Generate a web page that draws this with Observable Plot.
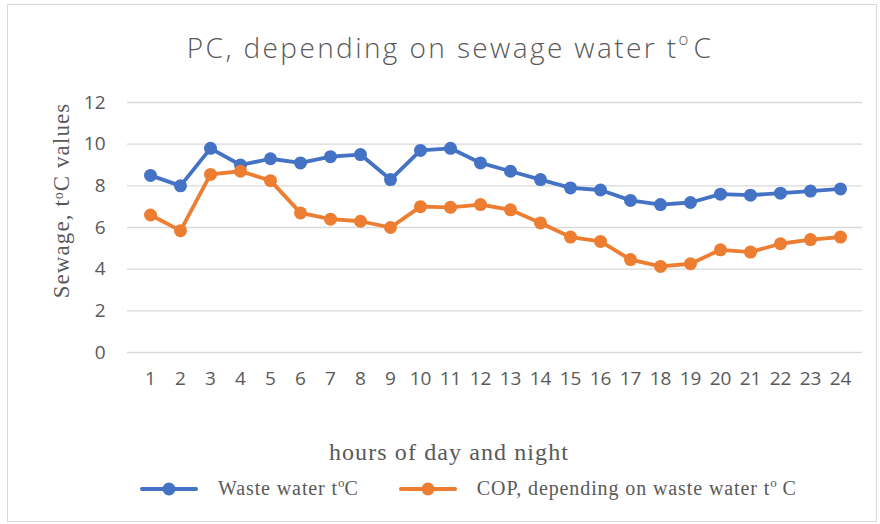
<!DOCTYPE html>
<html><head><meta charset="utf-8">
<script src="https://cdn.jsdelivr.net/npm/d3@7"></script>
<script src="https://cdn.jsdelivr.net/npm/@observablehq/plot@0.6"></script>
<style>
body{margin:0;background:#fff;}
#wrap{position:relative;width:880px;height:524px;overflow:hidden;background:#fff;}
#border{position:absolute;left:7px;top:4px;width:870px;height:518px;border:1px solid #d9d9d9;box-sizing:border-box;}
#title{position:absolute;left:0;top:27px;width:900px;text-align:center;font-family:"Open Sans",sans-serif;font-size:28px;letter-spacing:2.4px;font-weight:300;color:#595959;line-height:40px;margin:0;}
#title sup{font-size:60%;vertical-align:0;position:relative;top:-0.75em;letter-spacing:0;margin-right:5px;}
#chart{position:absolute;left:0;top:80px;}
#legend{position:absolute;left:140px;top:477px;display:flex;align-items:center;font-family:"Liberation Serif","Times New Roman",serif;font-size:20px;letter-spacing:0.9px;color:#595959;}
.item{display:flex;align-items:center;margin-right:40px;}
.item svg{margin-right:20px;}
.item sup{font-size:65%;vertical-align:0;position:relative;top:-0.6em;letter-spacing:0;}
#chart g[aria-label="text"] text{letter-spacing:1.1px;}
</style></head>
<body>
<div id="wrap">
  <div id="border"></div>
  <h1 id="title">PC, depending on sewage water t<sup>o</sup>C</h1>
  <div id="chart"></div>
  <div id="legend"></div>
</div>
<script>
const hours = [1,2,3,4,5,6,7,8,9,10,11,12,13,14,15,16,17,18,19,20,21,22,23,24];
const wasteWater = [8.5, 8.0, 9.8, 9.0, 9.3, 9.1, 9.4, 9.5, 8.3, 9.7, 9.8, 9.1, 8.7, 8.3, 7.9, 7.8, 7.3, 7.1, 7.2, 7.6, 7.55, 7.65, 7.75, 7.85];
const cop = [6.6, 5.85, 8.55, 8.7, 8.25, 6.7, 6.4, 6.3, 6.0, 7.0, 6.97, 7.1, 6.85, 6.22, 5.54, 5.33, 4.46, 4.13, 4.26, 4.93, 4.82, 5.22, 5.42, 5.54];
const yTicks = [0, 2, 4, 6, 8, 10, 12];
const seriesNames = ["Waste water t\u1D52C", "COP, depending on waste water t\u1D52 C"];
const seriesLegendHtml = ["Waste water t<sup>o</sup>C", "COP, depending on waste water t<sup>o</sup> C"];
const seriesColors = ["#4472C4", "#ED7D31"];
const yLabel = "Sewage, t\u1D52C values";
const xLabel = "hours of day and night";

const seriesValues = [wasteWater, cop];
const data = seriesValues.flatMap((vals, s) => vals.map((v, i) => ({hour: hours[i], value: v, series: seriesNames[s]})));

const seriesMarks = seriesNames.flatMap((name) => {
  const d = data.filter(r => r.series === name);
  return [
    Plot.line(d, {x: "hour", y: "value", stroke: "series", strokeWidth: 3.8, strokeLinejoin: "round", strokeLinecap: "round"}),
    Plot.dot(d, {x: "hour", y: "value", fill: "series", r: 6.5})
  ];
});

const chart = Plot.plot({
  width: 880,
  height: 390,
  marginLeft: 127,
  marginRight: 18,
  marginTop: 22,
  marginBottom: 118,
  x: {type: "point", domain: hours, padding: 0.5},
  y: {domain: [0, 12]},
  color: {domain: seriesNames, range: seriesColors},
  style: {fontFamily: "'Open Sans', sans-serif", fontSize: "19px", color: "#595959", background: "transparent", overflow: "visible"},
  marks: [
    Plot.gridY(yTicks, {stroke: "#d9d9d9", strokeOpacity: 1, strokeWidth: 1.3}),
    Plot.axisY(yTicks, {tickSize: 0, tickPadding: 22, label: null}),
    Plot.axisX(hours, {tickSize: 0, tickPadding: 19, label: null}),
    ...seriesMarks,
    Plot.text([yLabel], {frameAnchor: "left", textAnchor: "middle", lineAnchor: "middle", rotate: -90, dx: -66, dy: -27, fontFamily: "'Liberation Serif', serif", fontSize: 23, fill: "#595959"}),
    Plot.text([xLabel], {frameAnchor: "bottom", textAnchor: "middle", lineAnchor: "middle", dx: -46, dy: 100, fontFamily: "'Liberation Serif', serif", fontSize: 24, fill: "#595959"})
  ]
});
document.getElementById("chart").appendChild(chart);

const legend = document.getElementById("legend");
seriesNames.forEach((name, i) => {
  const item = document.createElement("div");
  item.className = "item";
  item.innerHTML = `<svg width="58" height="16"><line x1="2" y1="8" x2="56" y2="8" stroke="${seriesColors[i]}" stroke-width="4" stroke-linecap="round"/><circle cx="29" cy="8" r="6.5" fill="${seriesColors[i]}"/></svg><span>${seriesLegendHtml[i]}</span>`;
  legend.appendChild(item);
});
</script>
</body></html>
